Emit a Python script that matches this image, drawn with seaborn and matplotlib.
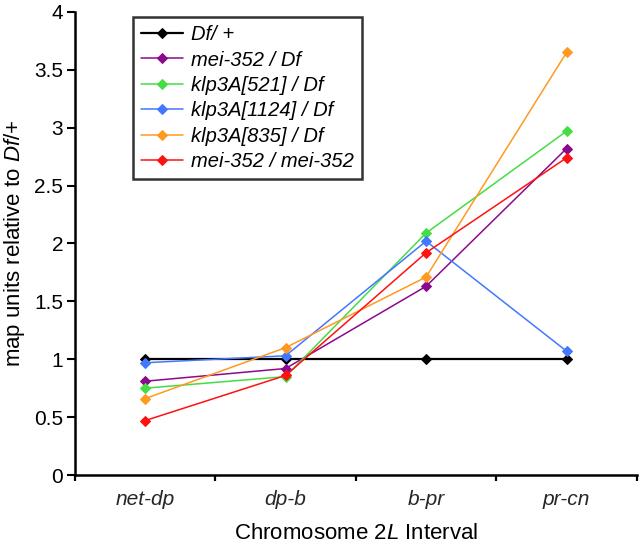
import numpy as np
import pandas as pd
import seaborn as sns
import matplotlib.pyplot as plt
import matplotlib.ticker as mticker

sns.set_theme(style="white")
plt.rcParams["font.family"] = ["Liberation Sans", "DejaVu Sans"]
plt.rcParams["mathtext.fontset"] = "custom"
plt.rcParams["mathtext.rm"] = "Liberation Sans"
plt.rcParams["mathtext.it"] = "Liberation Sans:italic"

intervals = ["net-dp", "dp-b", "b-pr", "pr-cn"]
genotypes = ["Df/ +", "mei-352 / Df", "klp3A[521] / Df", "klp3A[1124] / Df",
             "klp3A[835] / Df", "mei-352 / mei-352"]
df_plus = [1.0, 1.0, 1.0, 1.0]
mei352_df = [0.81, 0.92, 1.63, 2.82]
klp521_df = [0.75, 0.85, 2.09, 2.97]
klp1124_df = [0.97, 1.03, 2.02, 1.07]
klp835_df = [0.66, 1.10, 1.71, 3.65]
mei352_mei352 = [0.47, 0.86, 1.92, 2.74]

series = [df_plus, mei352_df, klp521_df, klp1124_df, klp835_df, mei352_mei352]
colors = ["#000000", "#8B0A8B", "#44DD44", "#4477FF", "#FF9922", "#FF1111"]
widths = [1.6, 1.1, 1.1, 1.1, 1.1, 1.1]

data = pd.DataFrame({
    "interval": intervals * len(genotypes),
    "genotype": np.repeat(genotypes, len(intervals)),
    "value": np.concatenate(series),
})

fig = plt.figure(figsize=(6.4, 5.48), dpi=100)
ax = fig.add_axes([0.117, 0.1332, 0.878, 0.845])

for g, c, w in zip(genotypes, colors, widths):
    sub = data[data["genotype"] == g]
    sns.lineplot(data=sub, x="interval", y="value", ax=ax, color=c, lw=w,
                 marker="D", markersize=5, markeredgecolor=c, label=g)

ax.set_xlim(-0.5, 3.5)
ax.set_ylim(0, 4)
ax.yaxis.set_major_locator(mticker.MultipleLocator(0.5))
ax.yaxis.set_major_formatter(mticker.FuncFormatter(lambda v, p: f"{v:g}"))

# separadores entre intervalos como ticks mayores, nombres como menores
ax.set_xticks([-0.5, 0.5, 1.5, 2.5, 3.5])
ax.set_xticklabels([])
ax.set_xticks([0, 1, 2, 3], minor=True)
ax.set_xticklabels(intervals, minor=True, fontstyle="italic", fontsize=15)
ax.tick_params(axis="x", which="minor", bottom=True, length=0, pad=11)
ax.tick_params(axis="x", which="major", bottom=True, direction="out",
               length=4.5, width=1.6, color="black")
ax.tick_params(axis="y", left=True, direction="out", length=5.5, width=1.5,
               color="black", labelsize=15, pad=3)
ax.tick_params(axis="both", colors="black", labelcolor="black")

for s in ["top", "right"]:
    ax.spines[s].set_visible(False)
for s in ["left", "bottom"]:
    ax.spines[s].set_color("black")
    ax.spines[s].set_linewidth(1.8)

ax.set_xlabel(r"Chromosome $\mathit{2L}$ Interval", fontsize=16, labelpad=10,
              color="black")
ax.set_ylabel(r"map units relative to $\mathit{Df}$/+", fontsize=16, labelpad=5,
              color="black")

leg = ax.legend(loc="upper left", bbox_to_anchor=(0.103, 0.989), borderaxespad=0,
                frameon=True, fancybox=False, edgecolor="black",
                prop={"style": "italic", "size": 14.5},
                handlelength=2.1, borderpad=0.4, labelspacing=0.32,
                handletextpad=0.4)
leg.get_frame().set_linewidth(1.8)
for t in leg.get_texts():
    t.set_color("black")

fig.savefig("out.png", dpi=100)
